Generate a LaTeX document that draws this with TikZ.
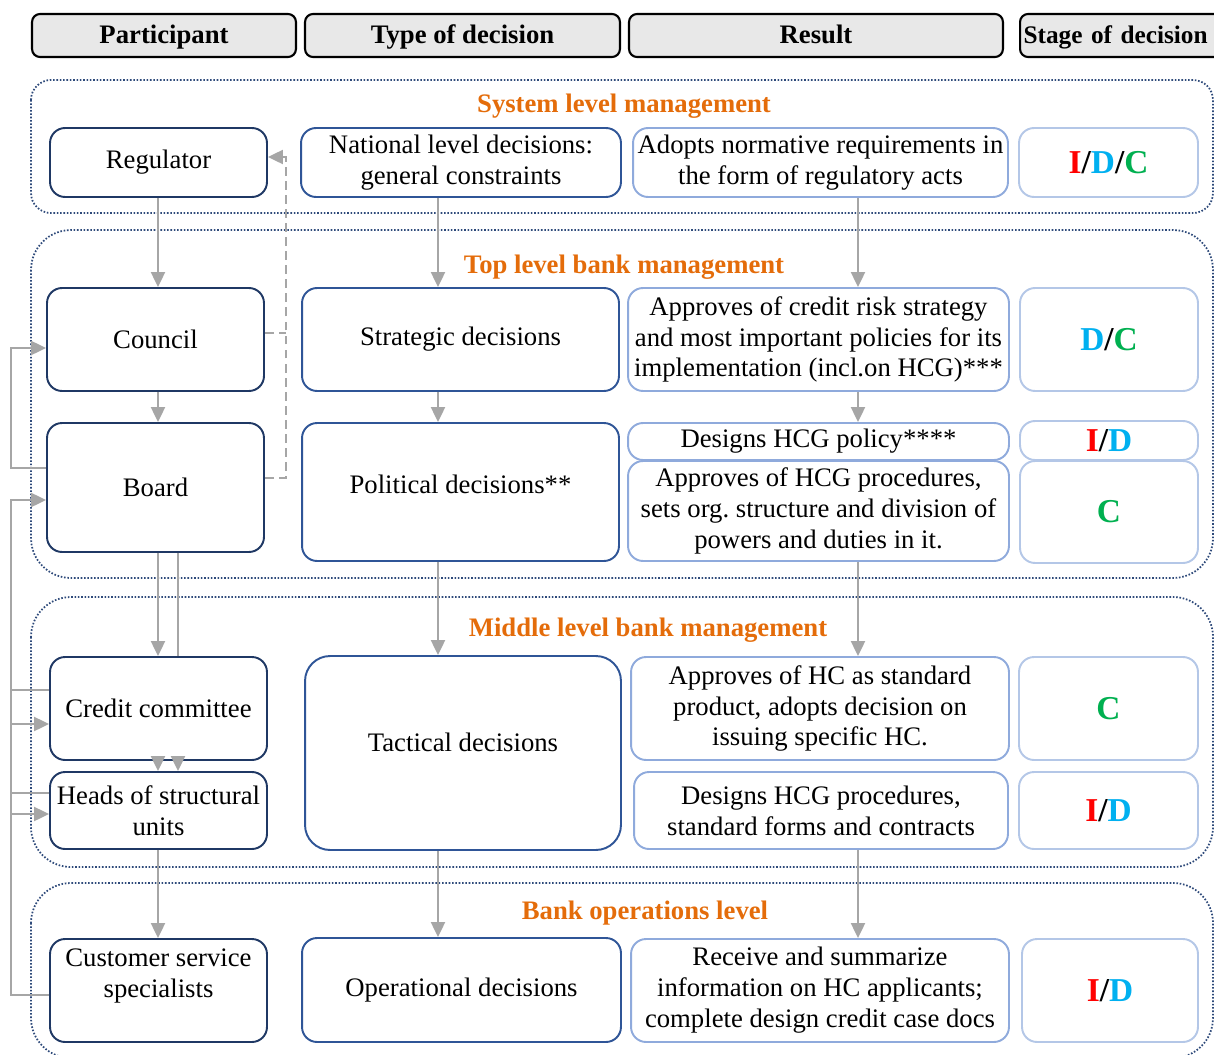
\documentclass[tikz,border=0pt]{standalone}
\usepackage{fontspec}
\setmainfont{Liberation Serif}
\usetikzlibrary{arrows.meta}

\definecolor{navy}{HTML}{1F3864}
\definecolor{midblue}{HTML}{2F5597}
\definecolor{resblue}{HTML}{8FAADC}
\definecolor{stgblue}{HTML}{B4C7E7}
\definecolor{lvlblue}{HTML}{2E4A7A}
\definecolor{lvlorange}{HTML}{E46C0A}
\definecolor{arrgray}{HTML}{A6A6A6}
\definecolor{hdrgray}{HTML}{E8E8E8}
\definecolor{stgred}{HTML}{FF0000}
\definecolor{stgcyan}{HTML}{00B0F0}
\definecolor{stggreen}{HTML}{00B050}

\newcommand{\stgI}{\textcolor{stgred}{I}}
\newcommand{\stgD}{\textcolor{stgcyan}{D}}
\newcommand{\stgC}{\textcolor{stggreen}{C}}

\tikzset{
  txt/.style={font=\fontsize{15.2}{17.6}\selectfont},
  box/.style={txt, rectangle, rounded corners=0.3cm, line width=1.1pt, fill=white, align=center, inner sep=1pt},
  pbox/.style={box, draw=navy},
  tbox/.style={box, draw=midblue},
  rbox/.style={box, draw=resblue},
  sbox/.style={box, draw=stgblue, font=\fontsize{19}{22}\bfseries\selectfont},
  hdr/.style={rectangle, rounded corners=0.16cm, draw=black, fill=hdrgray, line width=1.2pt, minimum height=0.86cm, text height=12.5pt, text depth=3.5pt, font=\fontsize{15.2}{17.6}\bfseries\selectfont},
  lvl/.style={draw=lvlblue, line width=1pt, dash pattern=on 0.9pt off 1pt, rounded corners=0.8cm},
  lvltitle/.style={text=lvlorange, font=\fontsize{15.2}{17.6}\bfseries\selectfont},
  ln/.style={draw=arrgray, line width=1pt},
  arr/.style={ln, -{Triangle[width=8pt,length=8.5pt]}},
  dsh/.style={ln, dash pattern=on 5pt off 3pt},
  dsharr/.style={dsh, -{Triangle[width=8pt,length=8.5pt]}}
}

\begin{document}
\begin{tikzpicture}[x=0.02cm, y=-0.02cm]
    \useasboundingbox (0,0) rectangle (1214,1055);

    % Column headers
    \node[hdr, minimum width=5.28cm] (hpar) at (164,35.5) {Participant};
    \node[hdr, minimum width=6.3cm] (htyp) at (462.5,35.5) {Type of decision};
    \node[hdr, minimum width=7.48cm] (hres) at (816,35.5) {Result};
    \node[hdr, anchor=west, text width=4.0cm, align=left, inner xsep=2pt, font=\fontsize{14.4}{17.6}\bfseries\selectfont] (hstg) at (1019,35.5) {Stage of decision};

    % Management levels
    \draw[lvl, rounded corners=0.4cm] (31,80) rectangle (1213,213);
    \draw[lvl] (31,230) rectangle (1213,578);
    \draw[lvl] (31,597) rectangle (1213,867);
    \draw[lvl] (31,883) rectangle (1213,1058);
    \node[lvltitle] (tsys) at (624,106) {System level management};
    \node[lvltitle] (ttop) at (624,267) {Top level bank management};
    \node[lvltitle] (tmid) at (648,630) {Middle level bank management};
    \node[lvltitle] (tops) at (645,913) {Bank operations level};

    % Participants
    \node[pbox, minimum width=4.34cm, minimum height=1.38cm] (reg) at (158.5,162.5) {Regulator};
    \node[pbox, minimum width=4.34cm, minimum height=2.06cm] (coun) at (155.5,339.5) {Council};
    \node[pbox, minimum width=4.34cm, minimum height=2.58cm] (brd) at (155.5,487.5) {Board};
    \node[pbox, minimum width=4.34cm, minimum height=2.06cm] (cc) at (158.5,708.5) {Credit committee};
    \node[pbox, minimum width=4.34cm, minimum height=1.54cm] (hsu) at (158.5,810.5) {Heads of structural\\units};
    \node[pbox, minimum width=4.34cm, minimum height=2.06cm, text depth=0.68cm] (css) at (158.5,990.5) {Customer service\\specialists};

    % Types of decision
    \node[tbox, minimum width=6.4cm, minimum height=1.38cm] (nat) at (461,162.5) {National level decisions:\\general constraints};
    \node[tbox, minimum width=6.34cm, minimum height=2.06cm] (strat) at (460.5,339.5) {Strategic decisions};
    \node[tbox, minimum width=6.34cm, minimum height=2.76cm, text depth=0.33cm] (pol) at (460.5,492) {Political decisions**};
    \node[tbox, minimum width=6.32cm, minimum height=3.88cm, rounded corners=0.5cm, text depth=0.45cm] (tact) at (463,753) {Tactical decisions};
    \node[tbox, minimum width=6.38cm, minimum height=2.08cm] (oper) at (461.5,990) {Operational decisions};

    % Results
    \node[rbox, minimum width=7.5cm, minimum height=1.38cm] (adopt) at (820.5,162.5) {Adopts normative requirements in\\the form of regulatory acts};
    \node[rbox, minimum width=7.62cm, minimum height=2.06cm] (apcr) at (818.5,339.5) {Approves of credit risk strategy\\and most important policies for its\\implementation (incl.on HCG)***};
    \node[rbox, minimum width=7.62cm, minimum height=0.74cm] (dpol) at (818.5,441.5) {Designs HCG policy****};
    \node[rbox, minimum width=7.62cm, minimum height=2.0cm] (aproc) at (818.5,511) {Approves of HCG procedures,\\sets org.\ structure and division of\\powers and duties in it.};
    \node[rbox, minimum width=7.56cm, minimum height=2.06cm] (aphc) at (820,708.5) {Approves of HC as standard\\product, adopts decision on\\issuing specific HC.};
    \node[rbox, minimum width=7.48cm, minimum height=1.54cm] (dproc) at (821,810.5) {Designs HCG procedures,\\standard forms and contracts};
    \node[rbox, minimum width=7.56cm, minimum height=2.06cm] (recv) at (820,990.5) {Receive and summarize\\information on HC applicants;\\complete design credit case docs};

    % Stages
    \node[sbox, minimum width=3.58cm, minimum height=1.38cm] (s1) at (1108.5,162.5) {\stgI/\stgD/\stgC};
    \node[sbox, minimum width=3.56cm, minimum height=2.06cm] (s2) at (1109,339.5) {\stgD/\stgC};
    \node[sbox, minimum width=3.56cm, minimum height=0.78cm] (s3) at (1109,440.5) {\stgI/\stgD};
    \node[sbox, minimum width=3.56cm, minimum height=2.04cm] (s4) at (1109,512) {\stgC};
    \node[sbox, minimum width=3.58cm, minimum height=2.06cm] (s5) at (1108.5,708.5) {\stgC};
    \node[sbox, minimum width=3.58cm, minimum height=1.54cm] (s6) at (1108.5,810.5) {\stgI/\stgD};
    \node[sbox, minimum width=3.52cm, minimum height=2.06cm] (s7) at (1110,990.5) {\stgI/\stgD};

    % Column lines
    \coordinate (pcol) at (158,0);
    \coordinate (pcol2) at (178,0);
    \coordinate (tcol) at (438,0);
    \coordinate (rcol) at (858,0);

    % Participant chain
    \draw[arr] (pcol |- reg.south) -- (pcol |- coun.north);
    \draw[arr] (pcol |- coun.south) -- (pcol |- brd.north);
    \draw[arr] (pcol |- brd.south) -- (pcol |- cc.north);
    \draw[ln] (pcol2 |- brd.south) -- (pcol2 |- cc.north);
    \draw[arr] (pcol |- cc.south) -- (pcol |- hsu.north);
    \draw[arr] (pcol2 |- cc.south) -- (pcol2 |- hsu.north);
    \draw[arr] (pcol |- hsu.south) -- (pcol |- css.north);

    % Decision chain
    \draw[arr] (tcol |- nat.south) -- (tcol |- strat.north);
    \draw[arr] (tcol |- strat.south) -- (tcol |- pol.north);
    \draw[arr] (tcol |- pol.south) -- (tcol |- tact.north);
    \draw[arr] (tcol |- tact.south) -- (tcol |- oper.north);

    % Result chain
    \draw[arr] (rcol |- adopt.south) -- (rcol |- apcr.north);
    \draw[arr] (rcol |- apcr.south) -- (rcol |- dpol.north);
    \draw[arr] (rcol |- aproc.south) -- (rcol |- aphc.north);
    \draw[arr] (rcol |- dproc.south) -- (rcol |- recv.north);

    % Reporting to regulator
    \draw[dsh] ([yshift=0.13cm]coun.east) -- ++(21,0);
    \draw[dsharr] ([yshift=0.19cm]brd.east) -- ++(21,0) |- ([yshift=0.11cm]reg.east);

    % Feedback on the left
    \draw[arr] ([yshift=0.39cm]brd.west) -- ++(-35,0) |- ([yshift=-0.17cm]coun.west);
    \draw[arr] ([yshift=-0.09cm]css.west) -- ++(-38,0) |- ([yshift=-0.25cm]brd.west);
    \draw[ln] ([yshift=0.37cm]cc.west) -- ++(-38,0);
    \draw[ln] ([yshift=0.35cm]hsu.west) -- ++(-38,0);
    \draw[arr] ([xshift=-0.76cm,yshift=-0.31cm]cc.west) -- ([yshift=-0.31cm]cc.west);
    \draw[arr] ([xshift=-0.76cm,yshift=-0.07cm]hsu.west) -- ([yshift=-0.07cm]hsu.west);
\end{tikzpicture}
\end{document}
